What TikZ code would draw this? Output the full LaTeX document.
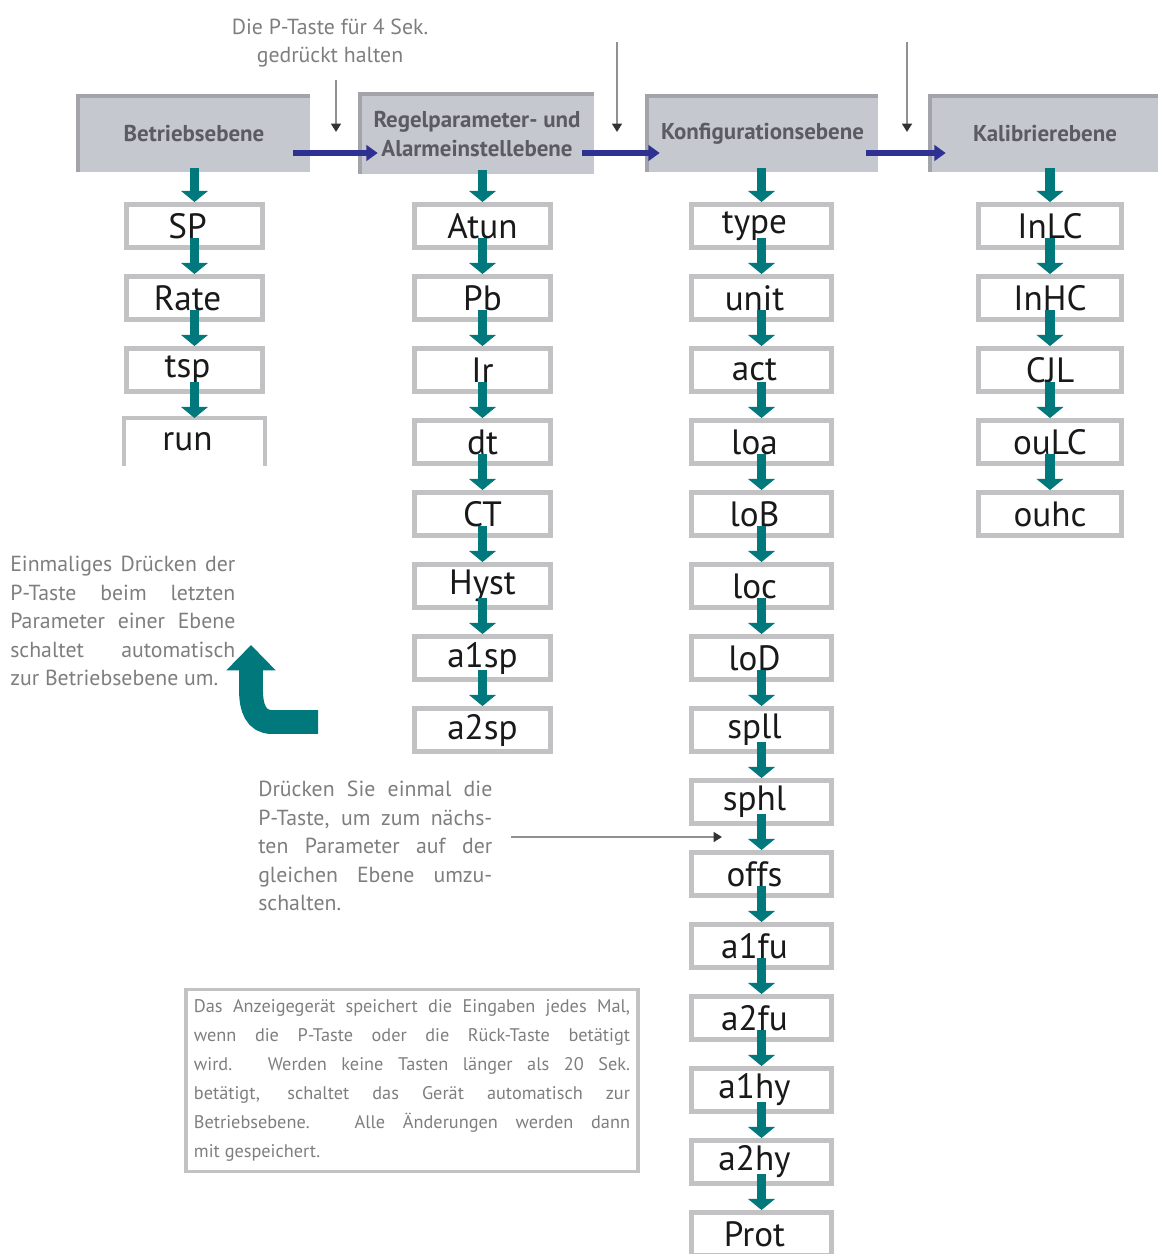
\documentclass[tikz,border=0pt]{standalone}
\usepackage{fontspec}
\setmainfont{PT Sans}
\usetikzlibrary{arrows.meta, positioning, calc}

\definecolor{tealarr}{HTML}{00787C}
\definecolor{navy}{HTML}{2E3192}
\definecolor{hdrfill}{HTML}{C6C8D0}
\definecolor{hdredge}{HTML}{A3A4AA}
\definecolor{hdrtext}{HTML}{5A5C62}
\definecolor{boxline}{HTML}{C2C2C4}
\definecolor{notegrey}{HTML}{7E7E80}
\definecolor{ptrgrey}{HTML}{8E9094}

\tikzset{
	item/.style={draw=boxline, line width=3.5pt, minimum height=1.075cm, inner sep=0pt, text=black!90, font=\fontsize{25}{28}\selectfont},
	leftish/.style={execute at begin node=\hspace*{-0.35cm}},
	header/.style={fill=hdrfill, inner sep=0pt, align=center, text=hdrtext, minimum height=1.9cm, font=\fontsize{16.3}{20}\selectfont\bfseries},
	hdrline/.style={draw=hdredge, line width=3pt},
	tealdown/.style={draw=tealarr, line width=6.5pt, -{Triangle[width=19pt,length=8pt]}},
	navyright/.style={draw=navy, line width=4pt, -{Triangle[width=11pt,length=8pt]}},
	greyptr/.style={draw=ptrgrey, line width=2pt, -{Triangle[width=7pt,length=6pt,color=black!80]}},
	bigturn/.style={draw=tealarr, line width=17pt, -{Triangle[width=34pt,length=18pt]}},
	note/.style={text=notegrey, align=justify, inner sep=0pt, font=\fontsize{15.5}{20.3}\selectfont},
}

\begin{document}
\begin{tikzpicture}[x=0.025cm, y=-0.025cm]
	\useasboundingbox (0,0) rectangle (1157,1254);

	% levels
	\node[header, minimum width=5.8cm] (h1) at (194,134) {Betriebsebene};
	\node[header, minimum width=5.85cm, minimum height=2cm] (h2) at (477,134) {Regelparameter- und\\Alarmeinstellebene};
	\node[header, minimum width=5.775cm] (h3) at (762.5,134) {Konfigurationsebene};
	\node[header, minimum width=5.75cm] (h4) at (1045,134) {Kalibrierebene};
	\foreach \h in {h1,h2,h3,h4}
		\draw[hdrline] (\h.south west) -- (\h.north west) -- (\h.north east); 

	% parameters of each level
	\foreach \lab [count=\i] in {SP,Rate,tsp}
		\node[item, leftish, minimum width=3.4cm] (a\i) at (194.5,{226+72*(\i-1)}) {\lab};
	\node[item, leftish, draw=none, minimum width=3.4cm] (a4) at (194.5,442) {run};
	\draw[boxline, line width=3.5pt] (a4.south west) -- (a4.north west) -- (a4.north east) -- (a4.south east);
	\foreach \lab [count=\i] in {Atun,Pb,Ir,dt,CT,Hyst,a1sp,a2sp}
		\node[item, minimum width=3.4cm] (b\i) at (482.5,{226+72*(\i-1)}) {\lab};
	\foreach \lab [count=\i] in {type,unit,act,loa,loB,loc,loD,spll,sphl,offs,a1fu,a2fu,a1hy,a2hy,Prot}
		\node[item, leftish, minimum width=3.5cm] (c\i) at (761.5,{226+72*(\i-1)}) {\lab};
	\foreach \lab [count=\i] in {InLC,InHC,CJL,ouLC,ouhc}
		\node[item, minimum width=3.58cm] (d\i) at (1050,{226+72*(\i-1)}) {\lab};

	% teal steps
	\draw[tealdown] ([yshift=0.1cm]h1.south -| a1) -- (a1.north);
	\draw[tealdown] ([yshift=0.1cm]h2.south -| b1) -- (b1.north);
	\draw[tealdown] ([yshift=0.1cm]h3.south -| c1) -- (c1.north);
	\draw[tealdown] ([yshift=0.1cm]h4.south -| d1) -- (d1.north);
	\foreach \i [evaluate=\i as \j using int(\i+1)] in {1,...,3}
		\draw[tealdown] ([yshift=0.3cm]a\i.south) -- (a\j.north);
	\foreach \i [evaluate=\i as \j using int(\i+1)] in {1,...,7}
		\draw[tealdown] ([yshift=0.3cm]b\i.south) -- (b\j.north);
	\foreach \i [evaluate=\i as \j using int(\i+1)] in {1,...,14}
		\draw[tealdown] ([yshift=0.3cm]c\i.south) -- (c\j.north);
	\foreach \i [evaluate=\i as \j using int(\i+1)] in {1,...,4}
		\draw[tealdown] ([yshift=0.3cm]d\i.south) -- (d\j.north);

	% level changes
	\draw[navyright] ([xshift=-0.425cm,yshift=-0.475cm]h1.east) -- ([xshift=0.45cm,yshift=-0.475cm]h2.west);
	\draw[navyright] ([xshift=-0.3cm,yshift=-0.475cm]h2.east) -- ([xshift=0.325cm,yshift=-0.475cm]h3.west);
	\draw[navyright] ([xshift=-0.3cm,yshift=-0.475cm]h3.east) -- ([xshift=0.4cm,yshift=-0.475cm]h4.west);

	% key presses
	\node[note, align=center] (hold) at (330,43) {Die P-Taste für 4 Sek.\\gedrückt halten};
	\coordinate (p1) at (336,132);
	\coordinate (p2a) at (617,42); \coordinate (p2) at (617,132);
	\coordinate (p3a) at (907,42); \coordinate (p3) at (907,132);
	\draw[greyptr] ($(hold.south -| p1)+(0,12)$) -- (p1);
	\draw[greyptr] (p2a) -- (p2);
	\draw[greyptr] (p3a) -- (p3);

	% notes
	\node[note, text width=5.625cm, anchor=north west] (autoback) at (10,556) {Einmaliges Drücken der\linebreak P-Taste beim letzten\linebreak Parameter einer Ebene\linebreak schaltet automatisch\linebreak zur Betriebsebene um.};
	\coordinate (turn0) at (318,722);
	\coordinate (turn1) at (251,645);
	\draw[bigturn] (turn0) -- (272,722) .. controls (256,722) and (251,708) .. (251,690) -- (turn1);

	\node[note, text width=5.85cm, anchor=north west] (onestep) at (258,781) {Drücken Sie einmal die\linebreak P-Taste, um zum nächs-\linebreak ten Parameter auf der\linebreak gleichen Ebene umzu-\linebreak schalten.};
	\coordinate (p4) at (722,837);
	\draw[greyptr] ($(onestep.east |- p4)+(18,0)$) -- (p4);

	\node[note, draw=boxline, line width=2.5pt, text width=10.9cm, inner xsep=0.2cm, minimum height=4.55cm, font=\fontsize{13}{20.6}\selectfont] (save) at (412,1080.5) {Das Anzeigegerät speichert die Eingaben jedes Mal,\linebreak wenn die P-Taste oder die Rück-Taste betätigt\linebreak wird. Werden keine Tasten länger als 20 Sek.\linebreak betätigt, schaltet das Gerät automatisch zur\linebreak Betriebsebene. Alle Änderungen werden dann\linebreak mit gespeichert.};
\end{tikzpicture}
\end{document}
